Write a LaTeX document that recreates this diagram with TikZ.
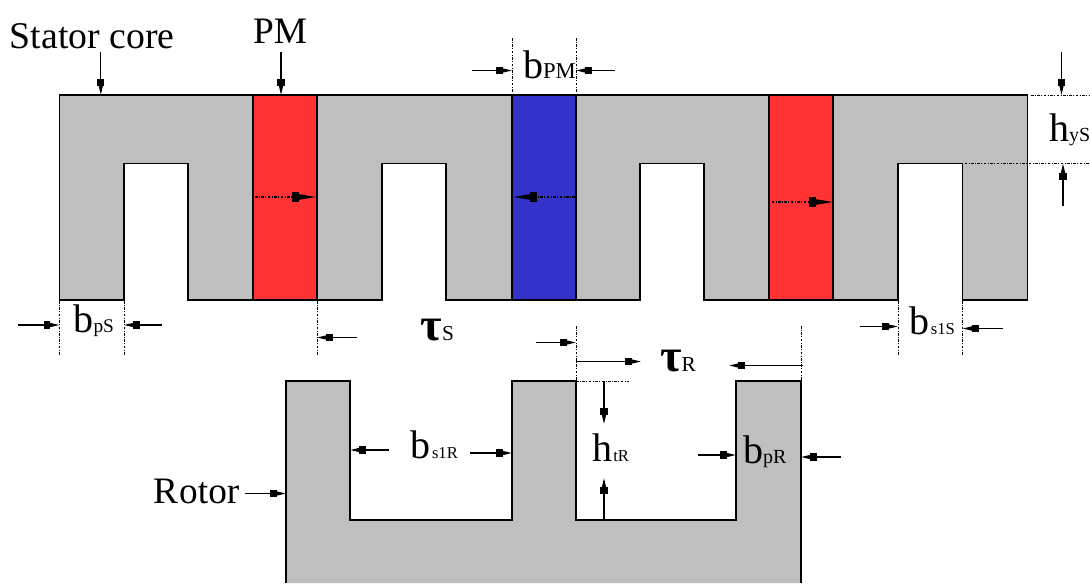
\documentclass[tikz,border=0pt]{standalone}
\usepackage{fontspec}
\setmainfont{Liberation Serif}
\usetikzlibrary{arrows.meta}
\definecolor{coregray}{HTML}{BFBFBF}
\definecolor{pmred}{HTML}{FF3333}
\definecolor{pmblue}{HTML}{3333CC}
\newcommand{\Bg}[1]{{\fontsize{30pt}{30pt}\selectfont #1}}
\newcommand{\Sb}[1]{{\fontsize{12.5pt}{12.5pt}\selectfont #1}}
\newcommand{\Tau}[1]{{\fontsize{35pt}{35pt}\selectfont\bfseries τ}{\fontsize{16pt}{16pt}\selectfont #1}}
\newcommand{\dimarrow}[3]{\coordinate (#1a) at #2; \coordinate (#1b) at #3; \draw[dimline] (#1a) -- (#1b);}
\newcommand{\pmarrow}[3]{\coordinate (#1a) at #2; \coordinate (#1b) at #3; \draw[fluxline] (#1a) -- (#1b);}
\newcommand{\extline}[3]{\coordinate (#1a) at #2; \coordinate (#1b) at #3; \draw[extension] (#1a) -- (#1b);}
\tikzset{
  x=0.75pt,y=-0.75pt,
  outline/.style={draw=black,line width=1.1pt,line join=miter},
  dimline/.style={draw=black,line width=0.9pt,-{Rectangle[length=5pt,width=5.5pt]Triangle[length=7pt,width=3pt]}},
  fluxline/.style={draw=black,line width=0.9pt,dash pattern=on 2pt off 1pt on 0.8pt off 1pt,-{Rectangle[length=5pt,width=8pt]Triangle[length=13pt,width=4pt]}},
  extension/.style={draw=black,line width=0.7pt,dash pattern=on 2pt off 1pt on 0.8pt off 1pt},
  lab/.style={anchor=base west,inner sep=0pt,outer sep=0pt,text=black},
}
\begin{document}
\begin{tikzpicture}
\useasboundingbox (0,0) rectangle (1090,583);
% stator core
\path[fill=coregray] (59.5,95) -- (1027.5,95) -- (1027.5,300) -- (962.5,300) -- (962.5,163.5) -- (898,163.5) -- (898,300) -- (704,300) -- (704,163.5) -- (640,163.5) -- (640,300) -- (446,300) -- (446,163.5) -- (382,163.5) -- (382,300) -- (188,300) -- (188,163.5) -- (124,163.5) -- (124,300) -- (59.5,300) -- cycle;
\node[fill=pmred,draw=black,line width=0.9pt,minimum width=48pt,minimum height=153.75pt,inner sep=0pt] (pm1) at (285,197.5) {};
\node[fill=pmblue,draw=black,line width=0.9pt,minimum width=48pt,minimum height=153.75pt,inner sep=0pt] (pm2) at (544,197.5) {};
\node[fill=pmred,draw=black,line width=0.9pt,minimum width=48pt,minimum height=153.75pt,inner sep=0pt] (pm3) at (801,197.5) {};
\draw[outline] (59.5,95) -- (1027.5,95) -- (1027.5,300) -- (962.5,300) -- (962.5,163.5) -- (898,163.5) -- (898,300) -- (704,300) -- (704,163.5) -- (640,163.5) -- (640,300) -- (446,300) -- (446,163.5) -- (382,163.5) -- (382,300) -- (188,300) -- (188,163.5) -- (124,163.5) -- (124,300) -- (59.5,300) -- cycle;
% rotor
\path[fill=coregray] (286,583) -- (286,381) -- (350,381) -- (350,520) -- (512,520) -- (512,381) -- (576,381) -- (576,520) -- (736,520) -- (736,381) -- (801,381) -- (801,583) -- cycle;
\draw[outline] (286,583) -- (286,381) -- (350,381) -- (350,520) -- (512,520) -- (512,381) -- (576,381) -- (576,520) -- (736,520) -- (736,381) -- (801,381) -- (801,583);
% extension lines
\extline{e1}{(512,38)}{(512,93)}
\extline{e2}{(576,38)}{(576,93)}
\extline{e3}{(1031,95)}{(1090,95)}
\extline{e4}{(964.5,163.5)}{(1090,163.5)}
\extline{e5}{(59.5,301)}{(59.5,356)}
\extline{e6}{(124,301)}{(124,356)}
\extline{e7}{(317,301)}{(317,356)}
\extline{e8}{(576,326)}{(576,381)}
\extline{e9}{(801,326)}{(801,381)}
\extline{e10}{(576,381)}{(629,381)}
\extline{e11}{(898,301)}{(898,356)}
\extline{e12}{(962.5,301)}{(962.5,356)}
% flux arrows
\pmarrow{f1}{(255,197)}{(316,197)}
\pmarrow{f2}{(575,197)}{(513,197)}
\pmarrow{f3}{(771.5,202)}{(833,202)}
% dimension arrows
\dimarrow{a1}{(100.8,52)}{(100.8,95)}
\dimarrow{a2}{(281,52)}{(281,95)}
\dimarrow{a3}{(471.5,70.5)}{(512,70.5)}
\dimarrow{a4}{(614.5,70.5)}{(576,70.5)}
\dimarrow{a5}{(1061.5,52)}{(1061.5,95)}
\dimarrow{a6}{(1063,206)}{(1063,163.5)}
\dimarrow{a7}{(18,325)}{(59.5,325)}
\dimarrow{a8}{(162,325)}{(124,325)}
\dimarrow{a9}{(357,337.5)}{(317,337.5)}
\dimarrow{a10}{(536,342.5)}{(576,342.5)}
\dimarrow{a11}{(576,361.5)}{(641,361.5)}
\dimarrow{a12}{(803,365.5)}{(729,365.5)}
\dimarrow{a13}{(860,326.5)}{(898,326.5)}
\dimarrow{a14}{(1003,328.5)}{(962.5,328.5)}
\dimarrow{a15}{(388.5,450)}{(350,450)}
\dimarrow{a16}{(470,453)}{(512,453)}
\dimarrow{a17}{(245,493.5)}{(286,493.5)}
\dimarrow{a18}{(604,381)}{(604,424)}
\dimarrow{a19}{(604,520)}{(604,478)}
\dimarrow{a20}{(698,455)}{(736,455)}
\dimarrow{a21}{(840.5,457)}{(801,457)}
% labels
\node[lab] (statorcore) at (10,48) {\fontsize{28.3pt}{28pt}\selectfont Stator core};
\node[lab] (pmtext) at (253,43) {\fontsize{28pt}{28pt}\selectfont PM};
\node[lab] (rotortext) at (153,503) {\fontsize{28pt}{28pt}\selectfont R\kern1pt otor};
\node[lab] (bpm) at (523,78) {\Bg{b}{\fontsize{17pt}{17pt}\selectfont PM}};
\node[lab] (hys) at (1049,141.5) {\Bg{h}{\fontsize{15pt}{15pt}\selectfont yS}};
\node[lab] (bps) at (73.5,332.5) {\Bg{b}{\fontsize{14.5pt}{14pt}\selectfont pS}};
\node[lab] (taus) at (420.5,340) {\Tau{S}};
\node[lab] (taur) at (660,371) {\Tau{R}};
\node[lab] (bs1s) at (909.5,334) {\Bg{b}\kern1pt\Sb{s1S}};
\node[lab] (bs1r) at (410,458) {\Bg{b}\kern1.5pt\Sb{s1R}};
\node[lab] (htr) at (592,461) {\Bg{h}\kern1pt\Sb{tR}};
\node[lab] (bpr) at (743,463) {\Bg{b}{\fontsize{15pt}{15pt}\selectfont pR}};
\end{tikzpicture}
\end{document}
